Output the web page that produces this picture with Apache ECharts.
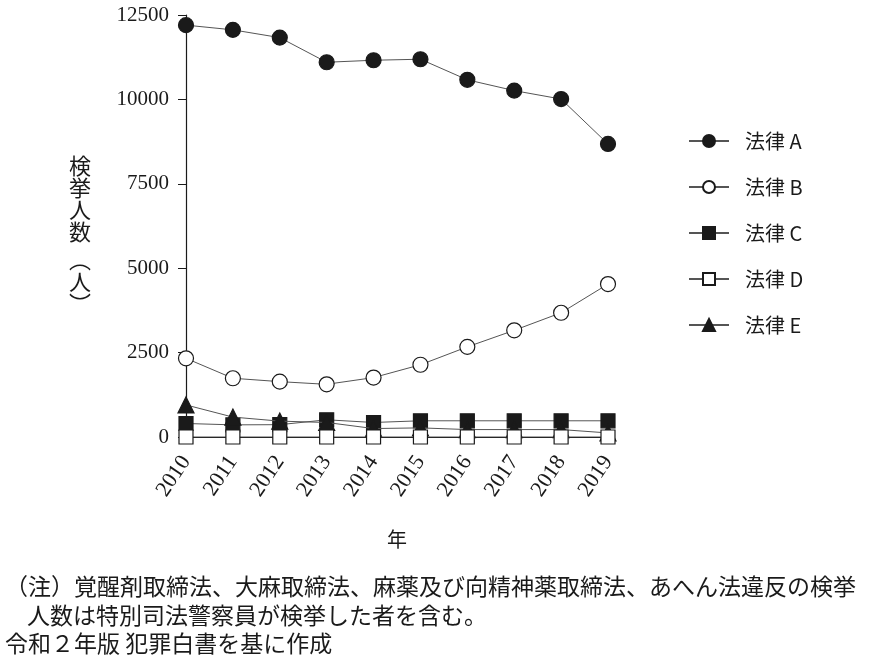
<!DOCTYPE html>
<html>
<head>
<meta charset="utf-8">
<script src="https://cdn.jsdelivr.net/npm/echarts@6/dist/echarts.min.js"></script>
<style>
  html, body { margin: 0; padding: 0; background: #fff; }
  #main { width: 876px; height: 669px; }
</style>
</head>
<body>
<div id="main"></div>
<script>
// 年
const years = ['2010', '2011', '2012', '2013', '2014', '2015', '2016', '2017', '2018', '2019'];
// 検挙人数
const lawA = [12200, 12060, 11830, 11100, 11160, 11190, 10580, 10260, 10010, 8680];
const lawB = [2330, 1740, 1640, 1560, 1760, 2140, 2670, 3160, 3680, 4530];
const lawC = [400, 360, 365, 510, 430, 480, 480, 480, 480, 480];
const lawD = [0, 0, 0, 0, 0, 0, 0, 0, 0, 0];
const lawE = [950, 590, 470, 430, 250, 270, 220, 220, 220, 120];
const yTicks = [0, 2500, 5000, 7500, 10000, 12500];

const serif = '"Liberation Serif", "DejaVu Serif", serif';
const sans = '"Noto Sans CJK JP", "Liberation Sans", sans-serif';
const lineColor = '#555';
const ink = '#1a1a1a';

const chart = echarts.init(document.getElementById('main'));

// 系列の共通設定
function makeSeries(name, data, symbol, size, fill, z) {
  return {
    name: name,
    type: 'line',
    data: data,
    symbol: symbol,
    symbolSize: size,
    showAllSymbol: true,
    z: z,
    lineStyle: { color: lineColor, width: 1 },
    itemStyle: { color: fill, borderColor: ink, borderWidth: 1.2 },
    emphasis: { disabled: true }
  };
}

const option = {
  animation: false,
  backgroundColor: '#fff',
  grid: { left: 186, top: 15, right: 268, bottom: 232 },
  legend: {
    data: ['法律A', '法律B', '法律C', '法律D', '法律E'],
    orient: 'vertical',
    left: 683,
    top: 126,
    itemWidth: 40,
    itemHeight: 15,
    itemGap: 26,
    textStyle: {
      fontFamily: sans,
      fontSize: 20,
      color: ink,
      padding: [0, 0, 0, 11]
    },
    formatter: function (n) { return n.replace('法律', '法律 '); }
  },
  xAxis: {
    type: 'category',
    data: years,
    boundaryGap: false,
    name: '年',
    nameLocation: 'middle',
    nameGap: 92,
    nameTextStyle: { fontFamily: sans, fontSize: 20, color: ink },
    axisLine: { lineStyle: { color: ink, width: 1.2 } },
    axisTick: { show: true, length: 6, lineStyle: { color: ink } },
    axisLabel: {
      rotate: 56,
      fontFamily: serif,
      fontSize: 22,
      color: ink,
      margin: 21,
      interval: 0
    },
    splitLine: { show: false }
  },
  yAxis: {
    type: 'value',
    min: yTicks[0],
    max: yTicks[yTicks.length - 1],
    interval: 2500,
    axisLine: { show: true, lineStyle: { color: ink, width: 1.2 } },
    axisTick: { show: true, length: 8, lineStyle: { color: ink } },
    axisLabel: {
      fontFamily: serif,
      fontSize: 21,
      color: ink,
      margin: 17,
      formatter: function (v) { return String(v); }
    },
    splitLine: { show: false }
  },
  series: [
    makeSeries('法律A', lawA, 'circle', 15, ink, 2),
    makeSeries('法律B', lawB, 'circle', 15, '#fff', 2),
    makeSeries('法律C', lawC, 'rect', 14, ink, 3),
    makeSeries('法律E', lawE, 'triangle', 16, ink, 4),
    makeSeries('法律D', lawD, 'rect', 14, '#fff', 5)
  ],
  graphic: [
    {
      type: 'text',
      left: 69,
      top: 155,
      style: {
        text: '{c|検}\n{c|挙}\n{c|人}\n{c|数}\n{g| }\n{c|︵}\n{c|人}\n{c|︶}',
        rich: {
          c: { fontFamily: sans, fontSize: 22, lineHeight: 22, fill: ink },
          g: { fontSize: 6, lineHeight: 6 }
        },
        align: 'center'
      }
    },
    {
      type: 'text',
      left: 5,
      top: 575,
      style: {
        text: '（注）覚醒剤取締法、大麻取締法、麻薬及び向精神薬取締法、あへん法違反の検挙',
        fontFamily: sans,
        fontSize: 23,
        fill: ink
      }
    },
    {
      type: 'text',
      left: 27,
      top: 604,
      style: {
        text: '人数は特別司法警察員が検挙した者を含む。',
        fontFamily: sans,
        fontSize: 23,
        fill: ink
      }
    },
    {
      type: 'text',
      left: 5,
      top: 632,
      style: {
        text: '令和２年版 犯罪白書を基に作成',
        fontFamily: sans,
        fontSize: 23,
        fill: ink
      }
    }
  ]
};

chart.setOption(option);
</script>
</body>
</html>
